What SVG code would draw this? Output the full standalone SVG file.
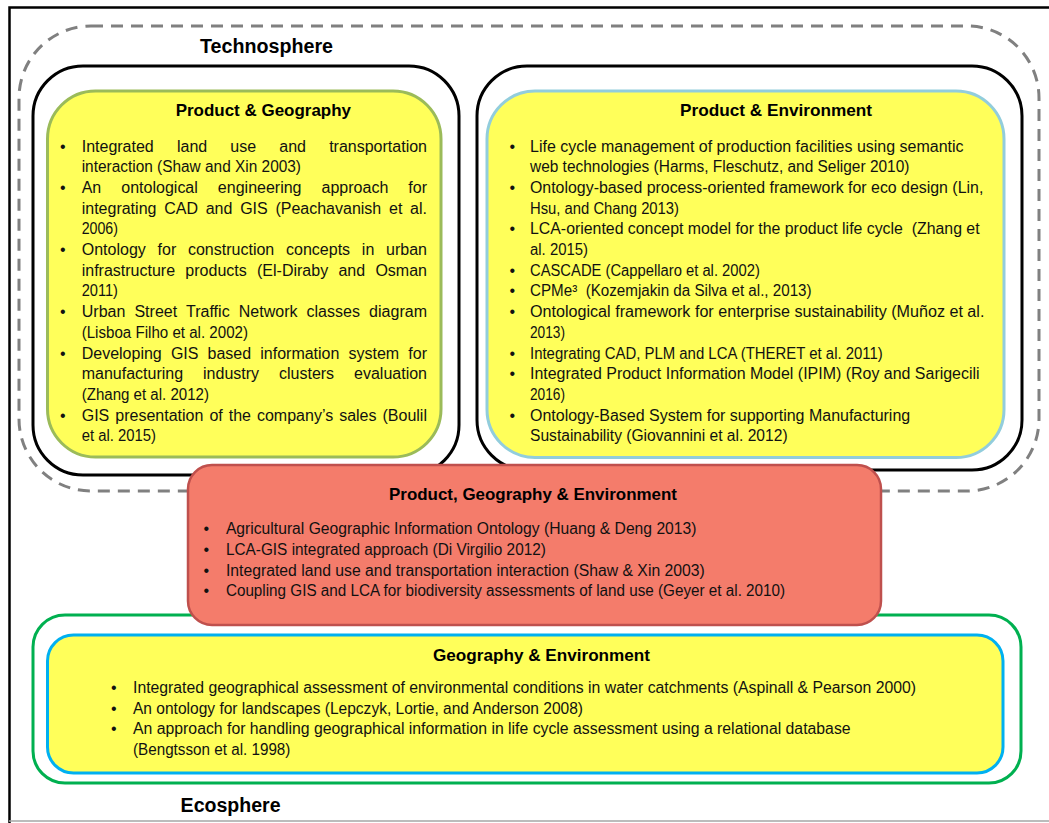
<svg xmlns="http://www.w3.org/2000/svg" width="1049" height="823" viewBox="0 0 1049 823">
<style>
.t{font-family:"Liberation Sans",Arial,sans-serif;font-weight:bold;font-size:17px;fill:#000}
.big{font-size:19.5px}
.b{font-family:"Liberation Sans",Arial,sans-serif;font-size:16px;fill:#111}
.yel{fill:#FFFF5A}
.blk{fill:#fff;stroke:#000;stroke-width:3}
</style>
<rect x="0" y="0" width="1049" height="823" fill="#fff"/>
<g id="frame">
<path d="M9.5,823 V7.5 H1049" fill="none" stroke="#000" stroke-width="2.5"/>
<line x1="9" y1="821" x2="1049" y2="821" stroke="#A6A6A6" stroke-width="1.5"/>
</g>
<g id="technosphere">
<rect x="19" y="26" width="1020" height="465" rx="72" ry="72" fill="none" stroke="#808080" stroke-width="3" stroke-dasharray="12 8"/>
<text class="t big" x="200" y="53.3" textLength="133" lengthAdjust="spacingAndGlyphs">Technosphere</text>
</g>
<g id="product-geography">
<rect class="blk" x="33" y="66" width="426" height="409" rx="50" ry="50"/>
<rect class="yel" x="47.5" y="91" width="393.5" height="366" rx="48" ry="48" stroke="#9BBB59" stroke-width="3"/>
<text class="t" x="175.7" y="116" textLength="175.3" lengthAdjust="spacingAndGlyphs">Product &amp; Geography</text>
<g class="b">
<text x="60" y="151.5">•</text>
<text x="81.7" y="151.5" style="word-spacing:18.7px" textLength="345.3" lengthAdjust="spacing">Integrated land use and transportation</text>
<text x="81.7" y="172.2" textLength="219.3" lengthAdjust="spacingAndGlyphs">interaction (Shaw and Xin 2003)</text>
<text x="60" y="192.9">•</text>
<text x="81.7" y="192.9" style="word-spacing:15.6px" textLength="345.3" lengthAdjust="spacing">An ontological engineering approach for</text>
<text x="81.7" y="213.6" style="word-spacing:3.3px" textLength="345.3" lengthAdjust="spacing">integrating CAD and GIS (Peachavanish et al.</text>
<text x="81.7" y="234.3" textLength="36.3" lengthAdjust="spacingAndGlyphs">2006)</text>
<text x="60" y="255">•</text>
<text x="81.7" y="255" style="word-spacing:7.3px" textLength="345.3" lengthAdjust="spacing">Ontology for construction concepts in urban</text>
<text x="81.7" y="275.7" style="word-spacing:5.85px" textLength="345.3" lengthAdjust="spacing">infrastructure products (El-Diraby and Osman</text>
<text x="81.7" y="296.4" textLength="36.3" lengthAdjust="spacingAndGlyphs">2011)</text>
<text x="60" y="317.1">•</text>
<text x="81.7" y="317.1" style="word-spacing:4.5px" textLength="345.3" lengthAdjust="spacing">Urban Street Traffic Network classes diagram</text>
<text x="81.7" y="337.8" textLength="166.3" lengthAdjust="spacingAndGlyphs">(Lisboa Filho et al. 2002)</text>
<text x="60" y="358.5">•</text>
<text x="81.7" y="358.5" style="word-spacing:4.7px" textLength="345.3" lengthAdjust="spacing">Developing GIS based information system for</text>
<text x="81.7" y="379.2" style="word-spacing:15.5px" textLength="345.3" lengthAdjust="spacing">manufacturing industry clusters evaluation</text>
<text x="81.7" y="399.9" textLength="127.3" lengthAdjust="spacingAndGlyphs">(Zhang et al. 2012)</text>
<text x="60" y="420.6">•</text>
<text x="81.7" y="420.6" style="word-spacing:1.5px" textLength="345.3" lengthAdjust="spacing">GIS presentation of the company’s sales (Boulil</text>
<text x="81.7" y="441.3" textLength="74.3" lengthAdjust="spacingAndGlyphs">et al. 2015)</text>
</g>
</g>
<g id="product-environment">
<rect class="blk" x="477" y="66" width="545" height="404" rx="50" ry="50"/>
<rect class="yel" x="487" y="91" width="517" height="366.5" rx="48" ry="48" stroke="#92CDDC" stroke-width="3"/>
<text class="t" x="680" y="116" textLength="192" lengthAdjust="spacingAndGlyphs">Product &amp; Environment</text>
<g class="b">
<text x="509.5" y="151.5">•</text>
<text x="530" y="151.5" textLength="433.5" lengthAdjust="spacingAndGlyphs">Life cycle management of production facilities using semantic</text>
<text x="530" y="172.2" textLength="379.4" lengthAdjust="spacingAndGlyphs">web technologies (Harms, Fleschutz, and Seliger 2010)</text>
<text x="509.5" y="192.9">•</text>
<text x="530" y="192.9" textLength="453.3" lengthAdjust="spacingAndGlyphs">Ontology-based process-oriented framework for eco design (Lin,</text>
<text x="530" y="213.6" textLength="149" lengthAdjust="spacingAndGlyphs">Hsu, and Chang 2013)</text>
<text x="509.5" y="234.3">•</text>
<text x="530" y="234.3" textLength="449.6" lengthAdjust="spacingAndGlyphs" xml:space="preserve">LCA-oriented concept model for the product life cycle  (Zhang et</text>
<text x="530" y="255" textLength="58" lengthAdjust="spacingAndGlyphs">al. 2015)</text>
<text x="509.5" y="275.7">•</text>
<text x="530" y="275.7" textLength="229.9" lengthAdjust="spacingAndGlyphs">CASCADE (Cappellaro et al. 2002)</text>
<text x="509.5" y="296.4">•</text>
<text x="530" y="296.4" textLength="281.6" lengthAdjust="spacingAndGlyphs" xml:space="preserve">CPMe³  (Kozemjakin da Silva et al., 2013)</text>
<text x="509.5" y="317.1">•</text>
<text x="530" y="317.1" textLength="454.4" lengthAdjust="spacingAndGlyphs">Ontological framework for enterprise sustainability (Muñoz et al.</text>
<text x="530" y="337.8" textLength="35" lengthAdjust="spacingAndGlyphs">2013)</text>
<text x="509.5" y="358.5">•</text>
<text x="530" y="358.5" textLength="352.8" lengthAdjust="spacingAndGlyphs">Integrating CAD, PLM and LCA (THERET et al. 2011)</text>
<text x="509.5" y="379.2">•</text>
<text x="530" y="379.2" textLength="449.6" lengthAdjust="spacingAndGlyphs">Integrated Product Information Model (IPIM) (Roy and Sarigecili</text>
<text x="530" y="399.9" textLength="35" lengthAdjust="spacingAndGlyphs">2016)</text>
<text x="509.5" y="420.6">•</text>
<text x="530" y="420.6" textLength="380.2" lengthAdjust="spacingAndGlyphs">Ontology-Based System for supporting Manufacturing</text>
<text x="530" y="441.3" textLength="257.6" lengthAdjust="spacingAndGlyphs">Sustainability (Giovannini et al. 2012)</text>
</g>
</g>
<g id="ecosphere">
<rect x="33" y="615" width="988" height="168" rx="32" ry="32" fill="#fff" stroke="#00B050" stroke-width="3"/>
<text class="t big" x="180.6" y="811.7" textLength="100" lengthAdjust="spacingAndGlyphs">Ecosphere</text>
</g>
<g id="geography-environment">
<rect class="yel" x="47.5" y="635" width="955.5" height="138" rx="26" ry="26" stroke="#00B0F0" stroke-width="3"/>
<text class="t" x="433" y="661" textLength="217" lengthAdjust="spacingAndGlyphs">Geography &amp; Environment</text>
<g class="b">
<text x="111" y="693">•</text>
<text x="133" y="693" textLength="783" lengthAdjust="spacingAndGlyphs">Integrated geographical assessment of environmental conditions in water catchments (Aspinall &amp; Pearson 2000)</text>
<text x="111" y="713.7">•</text>
<text x="133" y="713.7" textLength="450" lengthAdjust="spacingAndGlyphs">An ontology for landscapes (Lepczyk, Lortie, and Anderson 2008)</text>
<text x="111" y="734.4">•</text>
<text x="133" y="734.4" textLength="717.6" lengthAdjust="spacingAndGlyphs">An approach for handling geographical information in life cycle assessment using a relational database</text>
<text x="133" y="755.1" textLength="157.4" lengthAdjust="spacingAndGlyphs">(Bengtsson et al. 1998)</text>
</g>
</g>
<g id="product-geography-environment">
<rect x="188" y="465" width="693" height="160" rx="24" ry="24" fill="#F47C6B" stroke="#BF504D" stroke-width="2.5"/>
<text class="t" x="389" y="500" textLength="288" lengthAdjust="spacingAndGlyphs">Product, Geography &amp; Environment</text>
<g class="b">
<text x="203.5" y="534">•</text>
<text x="225.9" y="534" textLength="470.6" lengthAdjust="spacingAndGlyphs">Agricultural Geographic Information Ontology (Huang &amp; Deng 2013)</text>
<text x="203.5" y="554.8">•</text>
<text x="225.9" y="554.8" textLength="320" lengthAdjust="spacingAndGlyphs">LCA-GIS integrated approach (Di Virgilio 2012)</text>
<text x="203.5" y="575.6">•</text>
<text x="225.9" y="575.6" textLength="478.9" lengthAdjust="spacingAndGlyphs">Integrated land use and transportation interaction (Shaw &amp; Xin 2003)</text>
<text x="203.5" y="596.4">•</text>
<text x="225.9" y="596.4" textLength="559.2" lengthAdjust="spacingAndGlyphs">Coupling GIS and LCA for biodiversity assessments of land use (Geyer et al. 2010)</text>
</g>
</g>
<g id="connectors"/>
</svg>
